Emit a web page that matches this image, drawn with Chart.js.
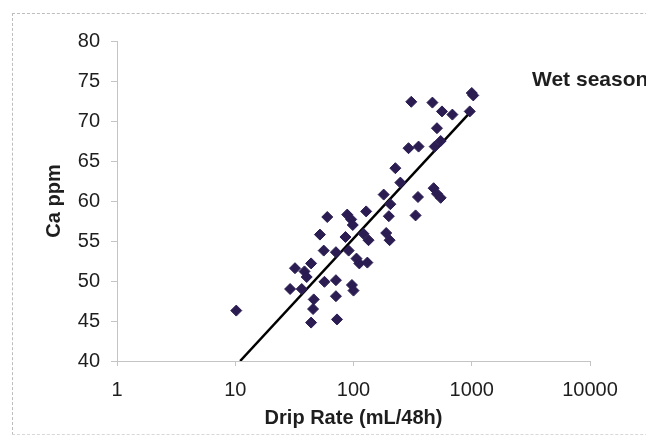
<!DOCTYPE html>
<html>
<head>
<meta charset="utf-8">
<script src="https://cdn.jsdelivr.net/npm/chart.js@4.4.1/dist/chart.umd.min.js"></script>
<style>
  html, body { margin: 0; padding: 0; background: #fff; }
  #wrap { position: relative; width: 646px; height: 437px; overflow: hidden; }
  #frame {
    position: absolute; left: 12px; top: 13px; width: 700px; height: 420px;
    border-left: 1px dashed #bdbdbd; border-top: 1px dashed #bdbdbd; border-bottom: 1px dashed #d8d8d8;
  }
  canvas { position: absolute; left: 0; top: 0; }
</style>
</head>
<body>
<div id="wrap">
  <div id="frame"></div>
  <canvas id="chart" width="646" height="437"></canvas>
</div>
<script>
// Drip rate (mL/48h) and Ca (ppm), wet season samples
const dripRate = [
  10.2, 29.1, 32, 36.5, 38.5, 40.2, 43.8, 45.5, 46.1, 43.8,
  52, 56, 56.8, 60, 71, 71, 71, 72.5, 85.5, 88.5,
  91, 95.6, 98.6, 97, 100, 106, 112, 121.5, 128, 131,
  134, 180, 189, 205, 199, 202, 226, 249, 292, 308,
  335, 351, 355, 465, 476, 486, 508, 508, 546, 546,
  560, 686, 962, 1000, 1030
];
const calcium = [
  46.3, 49.0, 51.6, 49.0, 51.2, 50.5, 52.2, 46.5, 47.7, 44.8,
  55.8, 53.8, 49.9, 58.0, 53.6, 50.1, 48.1, 45.2, 55.5, 58.3,
  53.8, 57.7, 57.0, 49.5, 48.8, 52.8, 52.2, 55.9, 58.7, 52.3,
  55.1, 60.8, 56.0, 59.6, 58.1, 55.1, 64.1, 62.3, 66.6, 72.4,
  58.2, 60.5, 66.8, 72.3, 61.6, 66.8, 69.1, 60.9, 67.5, 60.4,
  71.2, 70.8, 71.2, 73.5, 73.2
];

// fitted log trend line end points
const trendX = [11, 1000];
const trendY = [40, 71.3];

const xTicks = [1, 10, 100, 1000, 10000];
const yMin = 40, yMax = 80, yStep = 5;

const seasonLabel = 'Wet season';

const markerColor = '#2b1d52';
const axisColor = '#c4c4c4';
const textColor = '#1e1e1e';
const fontFamily = '"Liberation Sans", Arial, sans-serif';

const seasonLabelPlugin = {
  id: 'seasonLabel',
  afterDraw(chart) {
    const { ctx, chartArea } = chart;
    ctx.save();
    ctx.font = 'bold 21px ' + fontFamily;
    ctx.fillStyle = textColor;
    ctx.textAlign = 'left';
    ctx.textBaseline = 'middle';
    ctx.fillText(seasonLabel, chartArea.right - 58, chartArea.top + 39);
    ctx.restore();
  }
};

const ctx = document.getElementById('chart');

new Chart(ctx, {
  type: 'scatter',
  data: {
    datasets: [
      {
        label: 'Ca',
        data: dripRate.map((x, i) => ({ x, y: calcium[i] })),
        pointStyle: 'rectRot',
        pointRadius: 5.5,
        backgroundColor: markerColor,
        borderColor: markerColor,
        borderWidth: 1
      },
      {
        label: 'Trend',
        data: trendX.map((x, i) => ({ x, y: trendY[i] })),
        showLine: true,
        borderColor: '#000',
        borderWidth: 2.5,
        pointRadius: 0
      }
    ]
  },
  options: {
    responsive: false,
    animation: false,
    layout: { padding: { top: 41, right: 56, left: 0, bottom: 0 } },
    plugins: {
      legend: { display: false },
      tooltip: { enabled: false }
    },
    scales: {
      x: {
        type: 'logarithmic',
        min: 1,
        max: 10000,
        afterBuildTicks: scale => {
          scale.ticks = xTicks.map(v => ({ value: v }));
        },
        afterFit: scale => { scale.height = 76; },
        border: { display: true, color: axisColor, width: 1 },
        grid: { display: true, drawOnChartArea: false, drawTicks: true, tickLength: 5, color: axisColor },
        ticks: {
          padding: 12,
          color: textColor,
          maxRotation: 0,
          font: { family: fontFamily, size: 20 },
          callback: v => String(v)
        },
        title: {
          display: true,
          text: 'Drip Rate (mL/48h)',
          color: textColor,
          padding: { top: 0, bottom: 7 },
          font: { family: fontFamily, size: 20, weight: 'bold' }
        }
      },
      y: {
        min: yMin,
        max: yMax,
        afterFit: scale => { scale.width = 117; },
        border: { display: true, color: axisColor, width: 1 },
        grid: { display: true, drawOnChartArea: false, drawTicks: true, tickLength: 6, color: axisColor },
        ticks: {
          stepSize: yStep,
          padding: 11,
          color: textColor,
          font: { family: fontFamily, size: 20 }
        },
        title: {
          display: true,
          text: 'Ca ppm',
          color: textColor,
          padding: { top: 42, bottom: 0 },
          font: { family: fontFamily, size: 20, weight: 'bold' }
        }
      }
    }
  },
  plugins: [seasonLabelPlugin]
});
</script>
</body>
</html>
